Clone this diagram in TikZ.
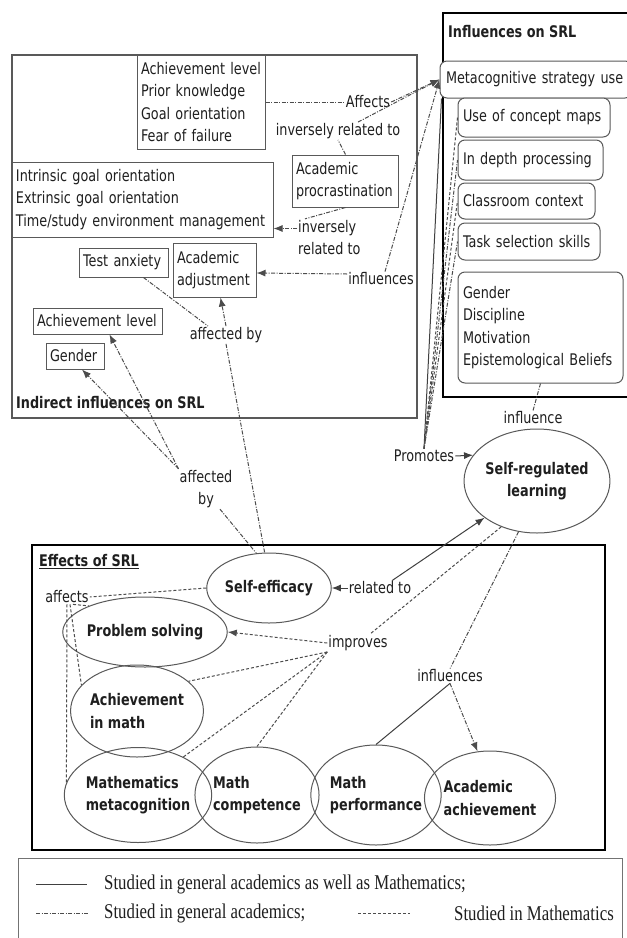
\documentclass[tikz,border=0pt]{standalone}
\usepackage{fontspec}
\setmainfont[FakeStretch=0.8]{DejaVu Sans}
\newfontfamily\legendfont[FakeStretch=0.8]{Liberation Serif}
\usetikzlibrary{shapes.geometric,arrows.meta}
\begin{document}
\begin{tikzpicture}[x=1pt,y=-1pt,
  every node/.style={font=\fontsize{16}{22.5}\selectfont, text=black!88},
  box/.style={draw=black!65, line width=1pt, inner xsep=4pt, inner ysep=0pt, align=left},
  rbox/.style={box, rounded corners=7pt, inner xsep=5pt, fill=white},
  outer/.style={draw, rectangle, inner sep=0pt},
  ell/.style={ellipse, draw=black!65, line width=1pt, inner sep=0pt,
     font=\fontsize{16}{22.5}\selectfont\bfseries, align=left},
  lbl/.style={inner sep=1pt},
  ttl/.style={inner sep=1pt, anchor=west, font=\fontsize{16}{22.5}\selectfont\bfseries},
  lboth/.style={draw=black!75, line width=1pt},
  lgen/.style={draw=black!70, line width=1pt, dash pattern=on 4pt off 1.5pt on 1pt off 1.5pt},
  lmath/.style={draw=black!70, line width=1pt, dash pattern=on 3pt off 2pt},
  arr/.style={-{Latex[length=9pt,width=7pt]}},
  lgd/.style={inner sep=0pt, anchor=west, font=\legendfont\fontsize{21}{26}\selectfont}
]
\clip (0,0) rectangle (627,938);
\fill[white] (0,0) rectangle (627,938);

% ---------- outer boxes ----------
\node[outer, draw=black!65, line width=1.5pt, minimum width=405pt, minimum height=363pt] (indirect) at (214.5,236.5) {};
\node[outer, draw=black, line width=2.5pt, minimum width=186pt, minimum height=384pt] (influ) at (536,205) {};
\node[outer, draw=black, line width=2.8pt, minimum width=573pt, minimum height=305pt] (effects) at (318.5,697.5) {};
\node[outer, draw=black!55, line width=1pt, minimum width=604pt, minimum height=92pt] (legend) at (320,904) {};

% ---------- titles ----------
\node[ttl] (indtitle) at (15,403) {Indirect influences on SRL};
\node[ttl] (inftitle) at (447,32) {Influences on SRL};
\node[ttl] (efftitle) at (38,562) {\underline{Effects of SRL}};

% ---------- indirect influences ----------
\node[box, text width=120pt, minimum height=94pt] (achbox) at (201,102) {Achievement level\\Prior knowledge\\Goal orientation\\Fear of failure};
\node[box, text width=253pt, minimum height=75pt] (intrbox) at (142.5,199.5) {Intrinsic goal orientation\\Extrinsic goal orientation\\Time/study environment management};
\node[box, inner xsep=3.5pt, text width=99pt, minimum height=52pt] (procbox) at (345.5,181) {Academic\\procrastination};
\node[box, text width=81pt, minimum height=29pt] (testbox) at (123.5,262.5) {Test anxiety};
\node[box, text width=75pt, minimum height=54pt] (adjbox) at (214.5,270) {Academic\\adjustment};
\node[box, text width=121pt, minimum height=26pt] (ach2box) at (97.5,321) {Achievement level};
\node[box, text width=50pt, minimum height=26pt] (genbox) at (75,356) {Gender};

% ---------- influences on SRL ----------
\node[rbox, inner xsep=6pt, text width=180pt, minimum height=37pt] (meta) at (536,79.5) {Metacognitive strategy use};
\node[rbox, text width=142pt, minimum height=39pt] (cmap) at (534,117.5) {Use of concept maps};
\node[rbox, text width=135pt, minimum height=40pt] (depth) at (530.5,160) {In depth processing};
\node[rbox, text width=127pt, minimum height=36pt] (class) at (526.5,201) {Classroom context};
\node[rbox, text width=132pt, minimum height=37pt] (task) at (529,241.5) {Task selection skills};
\node[rbox, text width=155pt, minimum height=111pt] (genr) at (540.5,327.5) {Gender\\Discipline\\Motivation\\Epistemological Beliefs};

% ---------- labels ----------
\node[lbl] (aff0) at (368,102) {Affects};
\node[lbl] (inv1) at (338,131) {inversely related to};
\node[lbl, anchor=west, align=left] (inv2) at (297,237.5) {inversely\\related to};
\node[lbl] (inf0) at (381,279) {influences};
\node[lbl] (aff1) at (226,335) {affected by};
\node[lbl, align=center] (aff2) at (206,489) {affected\\by};
\node[lbl] (prom) at (424,456) {Promotes};
\node[lbl] (inf1) at (533,418) {influence};
\node[lbl] (rel) at (380,588) {related to};
\node[lbl] (imp) at (358,643) {improves};
\node[lbl] (aff3) at (67,597) {affects};
\node[lbl] (inf2) at (450,676) {influences};

% ---------- ellipses ----------
\node[ell, align=center, minimum width=144pt, minimum height=104pt] (srl) at (537,481) {Self-regulated\\learning};
\node[ell, minimum width=112pt, minimum height=70pt] (se) at (269,588) {Self-efficacy};
\node[ell, minimum width=138pt, minimum height=70pt] (ps) at (145,632) {Problem solving};
\node[ell, minimum width=128pt, minimum height=92pt] (am) at (137,711) {Achievement\\in math};
\node[ell, minimum width=132pt, minimum height=95pt] (mm) at (138,795) {Mathematics\\metacognition};
\node[ell, minimum width=116pt, minimum height=96pt] (mc) at (257,795) {Math\\competence};
\node[ell, minimum width=120pt, minimum height=100pt] (mp) at (376,795) {Math\\performance};
\node[ell, minimum width=120pt, minimum height=94pt] (aa) at (490,798) {Academic\\achievement};

% ---------- connectors: top ----------
\draw[lgen] (achbox.east) -- (aff0.west);
\draw[lgen,arr] (aff0.east) -- (meta.west);
\draw[lgen] (procbox.north) -- (inv1.south);
\draw[lgen,arr] ([xshift=20pt]inv1.north) -- (meta.west);
\draw[lgen] (procbox.south) -- ([xshift=8pt]inv2.north west);
\draw[lgen,arr] ([yshift=9pt]inv2.west) -- ([yshift=9pt]intrbox.south east);
\draw[lgen,arr] ([yshift=5pt]inf0.west) -- ([yshift=-3pt]adjbox.east);
\draw[lgen,arr] ([xshift=4pt]inf0.north) -- (meta.west);

% ---------- connectors: indirect ----------
\draw[lgen] ([xshift=20pt]testbox.south) -- ([xshift=-18pt]aff1.north);
\draw[lgen,arr] (aff1.north) -- ([xshift=6pt]adjbox.south);
\draw[lgen] (aff1.south) -- (se.97);
\draw[lgen,arr] (aff2.north west) -- ([xshift=12pt]ach2box.south);
\draw[lgen,arr] (aff2.north west) -- ([xshift=7pt]genbox.south);
\draw[lgen] ([xshift=14pt]aff2.south) -- (se.110);

% ---------- connectors: promotes ----------
\draw[lboth] (prom.north) -- ([xshift=2pt]meta.south west);
\draw[lmath] (prom.north) -- (cmap.west);
\draw[lgen] (prom.north) -- (depth.west);
\draw[lmath] (prom.north) -- (class.west);
\draw[lgen] (prom.north) -- (task.west);
\draw[lboth,arr] (prom.east) -- (srl.158);
\draw[lgen] (genr.south) -- (inf1.north);

% ---------- connectors: effects ----------
\draw[lboth,arr] (rel.west) -- (se.east);
\draw[lboth,arr] ([xshift=12pt]rel.north) -- (srl.215);
\draw[lmath] (srl.232) -- ([xshift=12pt]imp.north);
\draw[lmath,arr] (imp.west) -- (ps.east);
\draw[lmath] (imp.south west) -- (am.30);
\draw[lmath] (imp.south west) -- (mm.40);
\draw[lmath] (imp.south west) -- (mc.north);
\draw[lmath] (se.west) -- (aff3.east);
\draw[lmath] ([xshift=6pt]aff3.south) -- (ps.155);
\draw[lmath] ([xshift=3pt]aff3.south) -- (am.155);
\draw[lmath] (aff3.south) -- (mm.170);
\draw[lgen] (srl.250) -- (inf2.north);
\draw[lboth] (inf2.south) -- (mp.north);
\draw[lgen,arr] (inf2.south) -- (aa.105);

% ---------- legend ----------
\coordinate (ls1) at (36,884);
\coordinate (ls2) at (87,884);
\draw[lboth] (ls1) -- (ls2);
\node[lgd] (lt1) at (104,884) {Studied in general academics as well as Mathematics;};
\coordinate (lg1) at (36,913);
\coordinate (lg2) at (88,913);
\draw[lgen] (lg1) -- (lg2);
\node[lgd] (lt2) at (104,913) {Studied in general academics;};
\coordinate (lm1) at (358,913);
\coordinate (lm2) at (410,913);
\draw[lmath] (lm1) -- (lm2);
\node[lgd] (lt3) at (454,913) {Studied in Mathematics};
\end{tikzpicture}
\end{document}
